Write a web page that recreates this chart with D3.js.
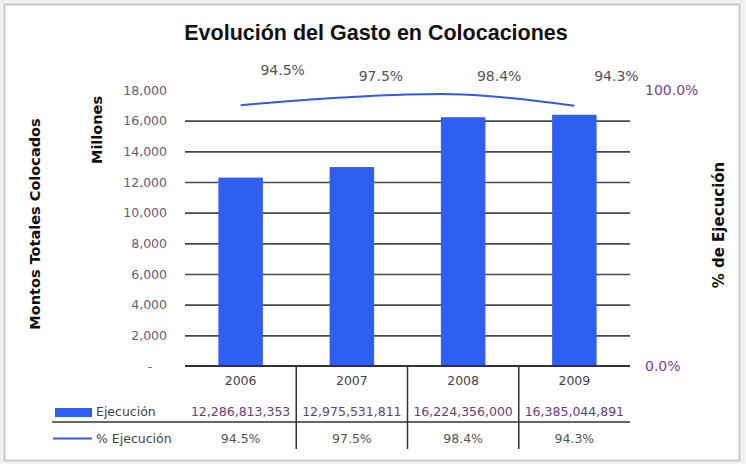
<!DOCTYPE html>
<html>
<head>
<meta charset="utf-8">
<script src="https://cdn.jsdelivr.net/npm/d3@7"></script>
<style>
  html, body { margin: 0; padding: 0; background: #f2f2f2; }
  svg { display: block; }
</style>
</head>
<body>
<svg id="chart" width="746" height="464"></svg>
<script>
// Datos: gasto ejecutado por año y porcentaje de ejecución
const years = ["2006", "2007", "2008", "2009"];
const ejecucion = [12286813353, 12975531811, 16224356000, 16385044891];
const pctEjecucion = [0.945, 0.975, 0.984, 0.943];
const leftTicks = [0, 2000, 4000, 6000, 8000, 10000, 12000, 14000, 16000, 18000];
const rightTicks = [0, 1];

// Desplazamiento de las etiquetas de porcentaje sobre la línea [dx, dy]
const pctLabelNudge = [[42, -35], [29, -21], [36, -18], [42, -30]];

const W = 746, H = 464;
const plot = { left: 185, right: 630, top: 90, bottom: 366 };

const svg = d3.select("#chart");

// Marco del gráfico
svg.append("rect")
  .attr("x", 4.5).attr("y", 4.5)
  .attr("width", 735).attr("height", 456)
  .attr("fill", "#ffffff")
  .attr("stroke", "#c9c9c9").attr("stroke-width", 2);

// Escalas
const x = d3.scaleBand().domain(years)
  .range([plot.left, plot.right])
  .paddingInner(0.6).paddingOuter(0.3);
const xStep = x.step();
const y = d3.scaleLinear().domain([0, 18000]).range([plot.bottom, plot.top]);
const yPct = d3.scaleLinear().domain([0, 1]).range([plot.bottom, plot.top]);

// Título
svg.append("text")
  .attr("x", 376).attr("y", 40)
  .attr("text-anchor", "middle")
  .attr("font-family", "Liberation Sans, Arial, sans-serif")
  .attr("font-weight", "bold")
  .attr("font-size", 21.5)
  .attr("fill", "#111")
  .text("Evolución del Gasto en Colocaciones");

// Líneas de cuadrícula (sin la de 18,000)
const grid = svg.append("g")
  .attr("transform", `translate(${plot.left},0)`)
  .call(d3.axisLeft(y)
    .tickValues(leftTicks.filter(d => d > 0 && d < 18000))
    .tickSize(-(plot.right - plot.left))
    .tickFormat(""));
grid.select(".domain").remove();
grid.selectAll(".tick line").attr("stroke", "#4a4a4a").attr("stroke-width", 1.6);

// Eje izquierdo (millones)
const fmtMill = d => d === 0 ? "-" : d3.format(",")(d);
const yAxisG = svg.append("g")
  .attr("transform", `translate(${plot.left},0)`)
  .call(d3.axisLeft(y).tickValues(leftTicks).tickSize(0).tickPadding(18).tickFormat(fmtMill));
yAxisG.select(".domain").remove();
yAxisG.selectAll(".tick text")
  .attr("font-family", "DejaVu Sans, sans-serif")
  .attr("font-size", 12.5)
  .attr("fill", "#6a5a72");
yAxisG.selectAll(".tick").filter(d => d === 0).select("text")
  .attr("x", -35).attr("text-anchor", "middle");

// Eje derecho (porcentaje)
const yPctG = svg.append("g")
  .attr("transform", `translate(${plot.right},0)`)
  .call(d3.axisRight(yPct).tickValues(rightTicks).tickSize(0).tickPadding(15)
    .tickFormat(d3.format(".1%")));
yPctG.select(".domain").remove();
yPctG.selectAll(".tick text")
  .attr("font-family", "DejaVu Sans, sans-serif")
  .attr("font-size", 14)
  .attr("fill", "#7a4588");

// Barras (millones)
svg.append("g").selectAll("rect")
  .data(years)
  .join("rect")
  .attr("x", d => x(d))
  .attr("width", x.bandwidth())
  .attr("y", (d, i) => y(ejecucion[i] / 1e6))
  .attr("height", (d, i) => plot.bottom - y(ejecucion[i] / 1e6))
  .attr("fill", "#2f5ef2");

// Línea base
svg.append("line")
  .attr("x1", plot.left).attr("x2", plot.right)
  .attr("y1", plot.bottom).attr("y2", plot.bottom)
  .attr("stroke", "#333").attr("stroke-width", 1.8);

// Línea de % de ejecución
const cx = d => x(d) + x.bandwidth() / 2;
const line = d3.line()
  .x((d, i) => cx(years[i]))
  .y(d => yPct(d))
  .curve(d3.curveCatmullRom.alpha(0.5));
svg.append("path")
  .datum(pctEjecucion)
  .attr("d", line)
  .attr("fill", "none")
  .attr("stroke", "#3359e0")
  .attr("stroke-width", 2);

// Etiquetas de porcentaje
svg.append("g").selectAll("text")
  .data(pctEjecucion)
  .join("text")
  .attr("x", (d, i) => cx(years[i]) + pctLabelNudge[i][0])
  .attr("y", (d, i) => yPct(d) + pctLabelNudge[i][1] + 5)
  .attr("text-anchor", "middle")
  .attr("font-family", "DejaVu Sans, sans-serif")
  .attr("font-size", 14)
  .attr("fill", "#555")
  .text(d => d3.format(".1%")(d));

// Títulos de ejes
const boldFont = "DejaVu Sans, sans-serif";
svg.append("text")
  .attr("transform", "translate(40,224) rotate(-90)")
  .attr("text-anchor", "middle")
  .attr("font-family", boldFont).attr("font-weight", "bold")
  .attr("font-size", 14.5).attr("fill", "#111")
  .text("Montos Totales Colocados");
svg.append("text")
  .attr("transform", "translate(102,130) rotate(-90)")
  .attr("text-anchor", "middle")
  .attr("font-family", boldFont).attr("font-weight", "bold")
  .attr("font-size", 14.5).attr("fill", "#111")
  .text("Millones");
svg.append("text")
  .attr("transform", "translate(724,225) rotate(-90)")
  .attr("text-anchor", "middle")
  .attr("font-family", boldFont).attr("font-weight", "bold")
  .attr("font-size", 15).attr("fill", "#111")
  .text("% de Ejecución");

// Tabla de datos
const table = svg.append("g")
  .attr("font-family", "DejaVu Sans, sans-serif")
  .attr("font-size", 12.5);
const rowYear = 385, rowVal = 416, rowPct = 443;

table.selectAll("text.year")
  .data(years).join("text").attr("class", "year")
  .attr("x", d => cx(d)).attr("y", rowYear)
  .attr("text-anchor", "middle").attr("fill", "#444")
  .text(d => d);
table.selectAll("text.val")
  .data(ejecucion).join("text").attr("class", "val")
  .attr("x", (d, i) => cx(years[i])).attr("y", rowVal)
  .attr("text-anchor", "middle").attr("fill", "#6a3d78")
  .text(d => d3.format(",")(d));
table.selectAll("text.pct")
  .data(pctEjecucion).join("text").attr("class", "pct")
  .attr("x", (d, i) => cx(years[i])).attr("y", rowPct)
  .attr("text-anchor", "middle").attr("fill", "#555")
  .text(d => d3.format(".1%")(d));

// Divisores de la tabla
table.selectAll("line.vdiv")
  .data(years.slice(1)).join("line").attr("class", "vdiv")
  .attr("x1", d => x(d) + x.bandwidth() / 2 - xStep / 2)
  .attr("x2", d => x(d) + x.bandwidth() / 2 - xStep / 2)
  .attr("y1", plot.bottom).attr("y2", 449)
  .attr("stroke", "#333").attr("stroke-width", 1.5);
table.append("line")
  .attr("x1", 52).attr("x2", plot.right)
  .attr("y1", 422).attr("y2", 422)
  .attr("stroke", "#333").attr("stroke-width", 1.5);

// Leyenda en la tabla
table.append("rect")
  .attr("x", 55).attr("y", 408).attr("width", 37).attr("height", 9)
  .attr("fill", "#2f5ef2");
table.append("text")
  .attr("x", 96).attr("y", rowVal).attr("fill", "#444")
  .text("Ejecución");
table.append("line")
  .attr("x1", 53).attr("x2", 92).attr("y1", 438.5).attr("y2", 438.5)
  .attr("stroke", "#3359e0").attr("stroke-width", 2);
table.append("text")
  .attr("x", 96).attr("y", rowPct).attr("fill", "#444")
  .text("% Ejecución");
</script>
</body>
</html>
